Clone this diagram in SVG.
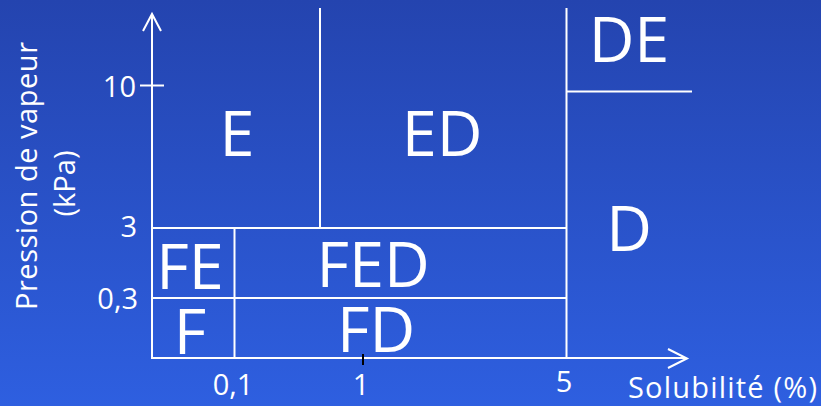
<svg xmlns="http://www.w3.org/2000/svg" width="821" height="406" viewBox="0 0 821 406">
<defs>
<linearGradient id="bg" x1="0" y1="0" x2="0" y2="1">
<stop offset="0" stop-color="#2444af"/>
<stop offset="1" stop-color="#2e5fe0"/>
</linearGradient>
<style>
.ln{stroke:#fff;stroke-width:2;fill:none}
.lb{fill:#fff;font-family:"Open Sans","DejaVu Sans",sans-serif;font-size:29px}
.big{fill:#fff;font-family:"Open Sans","DejaVu Sans",sans-serif;font-size:63px;text-anchor:middle}
</style>
</defs>
<rect width="821" height="406" fill="url(#bg)"/>
<g id="connectors">
<line class="ln" x1="152" y1="14" x2="152" y2="358"/>
<polyline class="ln" points="143,31 152,14 161,31"/>
<line class="ln" x1="151" y1="358" x2="686" y2="358"/>
<polyline class="ln" points="668,349 687,358.5 668,368"/>
<line class="ln" x1="140" y1="85.5" x2="164" y2="85.5"/>
<line class="ln" x1="152" y1="228" x2="567" y2="228"/>
<line class="ln" x1="152" y1="298" x2="567" y2="298"/>
<line class="ln" x1="234.5" y1="228" x2="234.5" y2="358"/>
<line class="ln" x1="320" y1="8" x2="320" y2="228"/>
<line class="ln" x1="566.5" y1="8" x2="566.5" y2="358"/>
<line class="ln" x1="566.5" y1="91.5" x2="692" y2="91.5"/>
<line x1="363" y1="354" x2="363" y2="365" stroke="#000" stroke-width="2"/>
</g>
<g id="axis-labels">
<text class="lb" x="136" y="97" text-anchor="end">10</text>
<text class="lb" x="137" y="237" text-anchor="end">3</text>
<text class="lb" x="138" y="309" text-anchor="end">0,3</text>
<text class="lb" x="233" y="395" text-anchor="middle">0,1</text>
<text class="lb" x="361" y="395" text-anchor="middle">1</text>
<text class="lb" x="564" y="392" text-anchor="middle">5</text>
<text class="lb" x="628" y="398" textLength="189">Solubilité (%)</text>
<text class="lb" transform="translate(37,176) rotate(-90)" text-anchor="middle" textLength="268">Pression de vapeur</text>
<text class="lb" transform="translate(75,183.5) rotate(-90)" text-anchor="middle">(kPa)</text>
</g>
<g id="node-E"><text class="big" x="237" y="156">E</text></g>
<g id="node-ED"><text class="big" x="442" y="156">ED</text></g>
<g id="node-DE"><text class="big" x="629" y="62">DE</text></g>
<g id="node-D"><text class="big" x="629" y="251">D</text></g>
<g id="node-FE"><text class="big" x="190" y="289">FE</text></g>
<g id="node-FED"><text class="big" x="373" y="287">FED</text></g>
<g id="node-F"><text class="big" x="190" y="354">F</text></g>
<g id="node-FD"><text class="big" x="376" y="352">FD</text></g>
</svg>
